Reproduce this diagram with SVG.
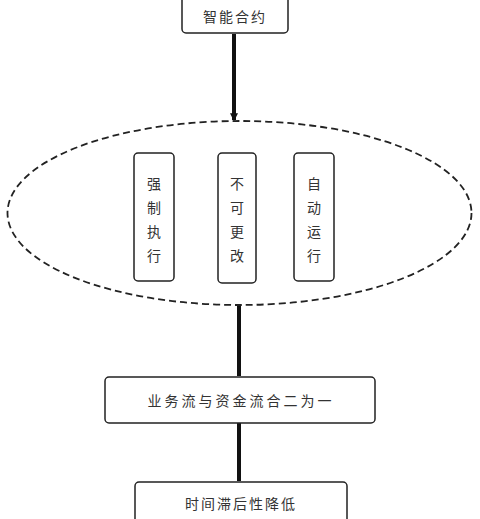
<svg xmlns="http://www.w3.org/2000/svg" width="480" height="519" viewBox="0 0 480 519">
<style>
.box{fill:#fff;stroke:#222;stroke-width:1.5}
.t{font-family:"Noto Sans CJK SC","Liberation Sans",sans-serif;font-size:14px;fill:#333;text-anchor:middle;dominant-baseline:central}
.c{stroke:#111;stroke-width:4;fill:none}
</style>
<defs>
<marker id="ah" viewBox="0 0 6 6" refX="5" refY="3" markerWidth="2" markerHeight="2" orient="auto"><path d="M0,0 L6,3 L0,6 z" fill="#111"/></marker>
</defs>
<rect width="480" height="519" fill="#fff"/>
<g id="connectors">
<line class="c" x1="234" y1="34" x2="234" y2="120" marker-end="url(#ah)"/>
<line class="c" x1="239" y1="306" x2="239" y2="376"/>
<line class="c" x1="239" y1="423" x2="239" y2="481"/>
</g>
<g id="n1"><rect class="box" x="182" y="-6" width="106" height="39" rx="4"/><text class="t" x="235" y="16" letter-spacing="2">智能合约</text></g>
<g id="group"><ellipse cx="239.5" cy="213" rx="232" ry="92" fill="none" stroke="#222" stroke-width="1.8" stroke-dasharray="7,4"/></g>
<g id="n2"><rect class="box" x="134" y="153" width="40" height="128" rx="4"/>
<text class="t" x="154" y="183">强</text><text class="t" x="154" y="207">制</text><text class="t" x="154" y="231">执</text><text class="t" x="154" y="255">行</text></g>
<g id="n3"><rect class="box" x="218" y="153" width="38" height="130" rx="4"/>
<text class="t" x="237" y="183">不</text><text class="t" x="237" y="207">可</text><text class="t" x="237" y="231">更</text><text class="t" x="237" y="255">改</text></g>
<g id="n4"><rect class="box" x="294" y="153" width="40" height="128" rx="4"/>
<text class="t" x="314" y="183">自</text><text class="t" x="314" y="207">动</text><text class="t" x="314" y="231">运</text><text class="t" x="314" y="255">行</text></g>
<g id="n5"><rect class="box" x="105" y="377" width="270" height="46" rx="4"/><text class="t" x="241" y="400" letter-spacing="3">业务流与资金流合二为一</text></g>
<g id="n6"><rect class="box" x="135" y="482" width="212" height="50" rx="4"/><text class="t" x="241" y="503" letter-spacing="2">时间滞后性降低</text></g>
</svg>
